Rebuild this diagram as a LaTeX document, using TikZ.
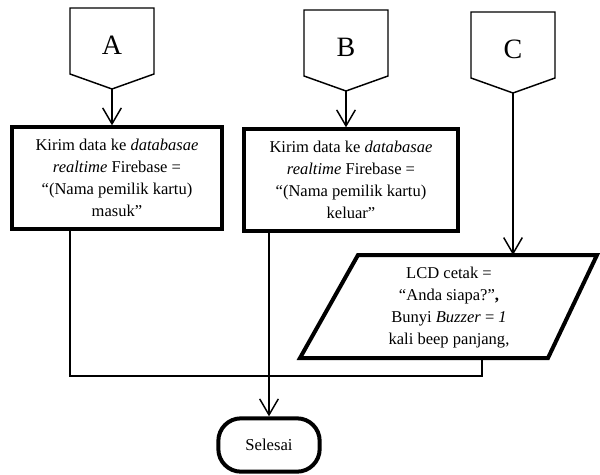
\documentclass[tikz,border=0pt]{standalone}
\usepackage{fontspec}
\setmainfont{Liberation Serif}
\usetikzlibrary{arrows.meta}
\newcommand{\konektor}[4]{% name, x, top, letter
  \draw [flow] (#2-42,#3) -- (#2+42,#3) -- (#2+42,#3+66) -- (#2,#3+81)
    -- (#2-42,#3+66) -- cycle;
  \node [font=\fontsize{21}{24}\selectfont] (#1) at (#2,#3+37) {#4};
  \coordinate (#1tip) at (#2,#3+81);
}

\begin{document}
\begin{tikzpicture}[x=0.75pt, y=-0.75pt,
    flow/.style={draw, line width=1.1pt},
    arr/.style={flow, -{Straight Barb[length=12pt, width=14pt]}},
    teks/.style={align=center, font=\fontsize{12.4}{16.5}\selectfont},
    proses/.style={teks, draw, line width=3pt, minimum width=158pt, minimum height=76pt,
      inner sep=0pt}]
    \useasboundingbox (0,0) rectangle (600,475);
    \konektor{A}{112}{8}{A}
    \konektor{B}{346}{10}{B}
    \konektor{C}{513}{12}{C}
    \node [proses] (kirimA) at (117,178)
      {Kirim data ke \textit{databasae}\\ \textit{realtime} Firebase =\\ “(Nama pemilik kartu)\\ masuk”};
    \node [proses, minimum width=160pt] (kirimB) at (351,180)
      {Kirim data ke \textit{databasae}\\ \textit{realtime} Firebase =\\ “(Nama pemilik kartu)\\ keluar”};
    \draw [line width=3pt, line join=miter] (358,255) -- (597,255) -- (548,358) -- (300,358) -- cycle;
    \node [teks] (lcd) at (449,308)
      {LCD cetak =\\ “Anda siapa?”\textbf{,}\\ Bunyi \textit{Buzzer} = \textit{1}\\ kali beep panjang,};
    \coordinate (lcdtop) at (513,255);
    \coordinate (lcdbot) at (482,358);
    \coordinate (gabung) at (70,376);
    \node [draw, line width=3pt, rounded corners=17pt, minimum width=76pt, minimum height=40pt,
      font=\fontsize{12.5}{14}\selectfont] (selesai) at (269,445) {Selesai};
    \draw [arr] (Atip) -- (Atip |- kirimA.north);
    \draw [arr] (Btip) -- (Btip |- kirimB.north);
    \draw [arr] (Ctip) -- (lcdtop);
    \draw [flow] (gabung |- kirimA.south) -- (gabung) -| (lcdbot);
    \draw [arr] (selesai |- kirimB.south) -- (selesai);
\end{tikzpicture}
\end{document}
